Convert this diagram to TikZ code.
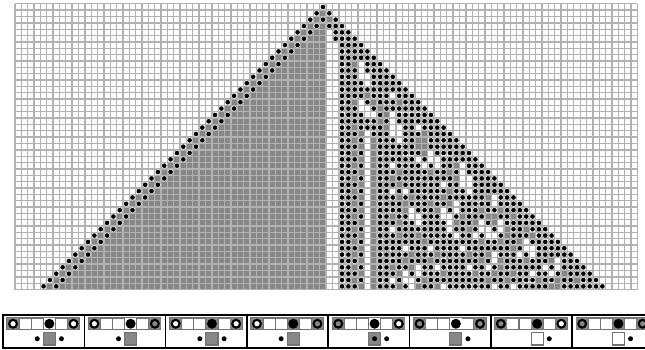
\documentclass[tikz,border=0pt]{standalone}

\colorlet{cagray}{black!47}
\tikzset{
  cellgray/.style={fill=cagray},
  gridline/.style={draw=black!30,line width=0.75pt},
  activedot/.style={fill=black,draw=white,line width=0.25pt},
  panelframe/.style={draw=black,line width=0.9pt},
  iconcell/.style={draw=black!55,line width=0.6pt},
  ring/.style={draw=black,line width=1.2pt},
}

% mobile automaton with many active cells, neighbours at -3, 0, +2
\newcount\simr
\newcount\simi
\newcount\simidx
\def\getcol#1#2{\ifcsname sc:#1:#2\endcsname\csname sc:#1:#2\endcsname\else0\fi}
\def\getact#1#2{\ifcsname sa:#1:#2\endcsname\csname sa:#1:#2\endcsname\else0\fi}
\def\setcol#1#2#3{\expandafter\xdef\csname sc:#1:#2\endcsname{#3}}
\def\setact#1#2{\expandafter\xdef\csname sa:#1:#2\endcsname{1}}
\def\splitrule#1#2#3#4{\def\rnew{#1}\def\rdl{#2}\def\rdc{#3}\def\rdr{#4}}
% new colour, dot left, dot here, dot right
\expandafter\def\csname rl0\endcsname{1101}
\expandafter\def\csname rl1\endcsname{1100}
\expandafter\def\csname rl2\endcsname{1101}
\expandafter\def\csname rl3\endcsname{1100}
\expandafter\def\csname rl4\endcsname{1011}
\expandafter\def\csname rl5\endcsname{1001}
\expandafter\def\csname rl6\endcsname{0001}
\expandafter\def\csname rl7\endcsname{0001}
\def\simstep{%
  \edef\nr{\the\numexpr\simr+1\relax}%
  \simi=-50
  \loop
    \ifnum\getact{\the\simr}{\the\simi}=1
      \simidx=\numexpr4*\getcol{\the\simr}{\the\numexpr\simi-3\relax}+2*\getcol{\the\simr}{\the\simi}+\getcol{\the\simr}{\the\numexpr\simi+2\relax}\relax
      \edef\tmp{\csname rl\the\simidx\endcsname}%
      \expandafter\splitrule\tmp
      \setcol{\nr}{\the\simi}{\rnew}%
      \ifnum\rdl=1 \setact{\nr}{\the\numexpr\simi-1\relax}\fi
      \ifnum\rdc=1 \setact{\nr}{\the\simi}\fi
      \ifnum\rdr=1 \setact{\nr}{\the\numexpr\simi+1\relax}\fi
    \else
      \setcol{\nr}{\the\simi}{\getcol{\the\simr}{\the\simi}}%
    \fi
    \advance\simi by 1
  \ifnum\simi<51 \repeat}
\setact{0}{0}
\foreach \r in {0,...,43}{\simr=\r\relax\simstep}

\begin{document}
\begin{tikzpicture}[x=0.02cm,y=-0.02cm]
  \useasboundingbox (0,0) rectangle (645,350);
  \clip (0,0) rectangle (645,350);

  % evolution
  \foreach \r in {0,...,44}
    \foreach \i in {-48,...,49}{
      \ifnum\getcol{\r}{\i}=1 \fill[cellgray] ({15+(\i+48)*6.35},{3.8+\r*6.35}) rectangle ++(6.35,6.35);\fi
    }
  \foreach \k in {0,...,98}
    \draw[gridline] ({15+\k*6.35},3.8) -- ++(0,285.75);
  \foreach \k in {0,...,45}
    \draw[gridline] (15,{3.8+\k*6.35}) -- ++(622.3,0);
  \foreach \r in {0,...,44}
    \foreach \i in {-48,...,49}{
      \ifnum\getact{\r}{\i}=1 \fill[activedot] ({15+(\i+48.5)*6.35},{3.8+(\r+0.5)*6.35}) circle[radius=2.7];\fi
    }

  % rule icons
  \foreach \k/\lf/\cf/\rf/\sf/\dl/\dc/\dr in {
      0/white/white/white/cagray/1/0/1, 1/white/white/cagray/cagray/1/0/0,
      2/white/cagray/white/cagray/1/0/1, 3/white/cagray/cagray/cagray/1/0/0,
      4/cagray/white/white/cagray/0/1/1, 5/cagray/white/cagray/cagray/0/0/1,
      6/cagray/cagray/white/white/0/0/1, 7/cagray/cagray/cagray/white/0/0/1}{
    \begin{scope}[shift={(3+81.3*\k,315)}]
      \draw[panelframe] (0,0) rectangle (81.3,33);
      \foreach \j in {0,...,5}
        \draw[iconcell,fill=white] ({4+\j*12.1},3) rectangle ++(12.1,11.5);
      \fill[cagray] (4.3,3.3) rectangle ++(11.5,10.9);
      \fill[\cf] (40.6,3.3) rectangle ++(11.5,10.9);
      \fill[cagray] (64.8,3.3) rectangle ++(11.5,10.9);
      \draw[ring,fill=\lf] (10.05,8.75) circle[radius=3.9];
      \fill[black] (46.35,8.75) circle[radius=5];
      \draw[ring,fill=\rf] (70.55,8.75) circle[radius=3.9];
      \draw[iconcell,fill=\sf] (40.3,17.5) rectangle ++(12.1,12.5);
      \ifnum\dl=1 \fill[black] (34.25,23.75) circle[radius=2.5];\fi
      \ifnum\dc=1 \fill[black] (46.35,23.75) circle[radius=2.5];\fi
      \ifnum\dr=1 \fill[black] (58.45,23.75) circle[radius=2.5];\fi
    \end{scope}
  }
\end{tikzpicture}
\end{document}
